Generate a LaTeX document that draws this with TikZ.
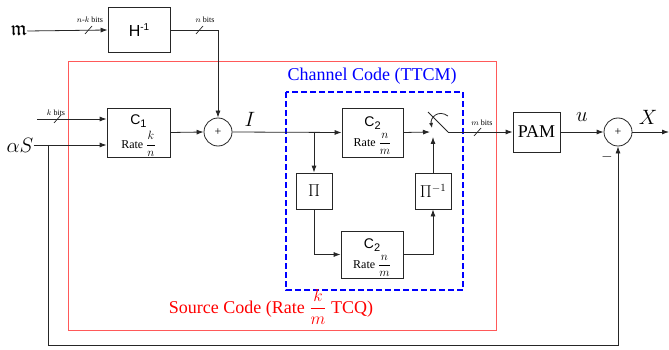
\documentclass[tikz,border=0pt]{standalone}
\usepackage{amssymb}
\usepackage{fontspec}
\setmainfont{Liberation Serif}
\setsansfont{Liberation Sans}
\usetikzlibrary{arrows.meta}
\DeclareMathSizes{12}{12}{9}{7}
\DeclareMathSizes{18}{18}{13}{10}
\DeclareMathSizes{16}{16}{11}{8}
\DeclareMathSizes{21}{21}{15}{11}
\newcommand{\ratefrac}[2]{\fontsize{12}{12}\selectfont Rate $\displaystyle\frac{#1}{#2}$}
\newcommand{\sfsub}[2]{{\sffamily\fontsize{14}{14}\selectfont\rule{0pt}{16pt}#1\raisebox{-3pt}{\fontsize{11}{11}\selectfont #2}}}
\begin{document}
\begin{tikzpicture}[x=1pt,y=-1pt,
  wire/.style={draw=black!85,line width=0.8pt},
  arr/.style={wire,-{Latex[length=7pt,width=5pt]}},
  blk/.style={draw=black!85,line width=0.8pt,rectangle,inner sep=0pt,align=center},
  sumnode/.style={draw=black!85,line width=0.8pt,circle,minimum size=28pt,inner sep=0pt,font=\fontsize{12}{12}\selectfont},
  tinylab/.style={font=\fontsize{8}{8}\selectfont,inner sep=0pt},
  biglab/.style={font=\fontsize{21}{21}\selectfont,inner sep=0pt},
  slashmark/.style={draw=black!85,line width=0.7pt}
]
\useasboundingbox (0,0) rectangle (669,350);

% frames
\draw[red!65,line width=1pt] (68,62) rectangle (496,330);
\draw[blue,line width=1.5pt,dash pattern=on 6pt off 3pt] (286,92) rectangle (463,290);
\node[text=blue,font=\fontsize{18}{18}\selectfont,inner sep=0pt] (cclab) at (372,76) {Channel Code (TTCM)};
\node[text=red,font=\fontsize{18}{18}\selectfont,inner sep=0pt,anchor=base] (sclab) at (271,313)
  {Source Code (Rate $\displaystyle\frac{k}{m}$ TCQ)};

% sources
\node[biglab] (msrc) at (19,31) {$\mathfrak{m}$};
\node[biglab] (as) at (20,145) {$\alpha S$};

% blocks
\node[blk,minimum width=62pt,minimum height=45pt] (h) at (139,30)
  {\sffamily\fontsize{16}{16}\selectfont H\raisebox{6pt}{\fontsize{10}{10}\selectfont -1}};
\node[blk,minimum width=63pt,minimum height=49pt] (c1) at (138.5,132.5)
  {\sfsub{C}{1}\\[3pt]\ratefrac{k}{n}};
\node[sumnode] (add1) at (218,132) {+};
\node[blk,minimum width=61pt,minimum height=49pt] (c2t) at (372.5,132.5)
  {\sfsub{C}{2}\\[3pt]\ratefrac{n}{m}};
\node[blk,minimum width=36pt,minimum height=36pt,font=\fontsize{16}{16}\selectfont] (pi) at (314,191) {$\Pi$};
\node[blk,minimum width=36pt,minimum height=36pt,font=\fontsize{16}{16}\selectfont] (pii) at (433,191) {$\Pi^{-1}$};
\node[blk,minimum width=62pt,minimum height=47pt] (c2b) at (372,254.5)
  {\sfsub{C}{2}\\[3pt]\ratefrac{n}{m}};
\node[blk,minimum width=47pt,minimum height=40pt,font=\fontsize{18}{18}\selectfont] (pam) at (536.5,132) {PAM};
\node[sumnode] (add2) at (618,132) {+};

% switch
\coordinate (swin) at (430,132);
\coordinate (swctl) at (433,137);
\coordinate (swa) at (428,112);
\coordinate (swb) at (448,132);
\draw[wire] (swa) -- (swb);
\draw[wire,-{Latex[length=5pt,width=4pt]}] (448,116) .. controls (438,109) and (430,118) .. (432,128);

% coordinates
\coordinate (kin) at (37,119);
\coordinate (j1) at (48,145);
\coordinate (fbc) at (618,345);
\coordinate (xout) at (669,132);
\coordinate (br1) at (pi.north |- add1.east);

% connectors
\draw[arr] (msrc.east) -- (h.west);
\draw[arr] (h.east) -| (add1.north);
\draw[arr] (kin) -- (kin -| c1.west);
\draw[arr] (as.east) -- (as.east -| c1.west);
\draw[arr] (c1.east) -- (add1.west);
\draw[arr] (add1.east) -- (c2t.west);
\draw[arr] (br1) -- (pi.north);
\draw[arr] (pi.south) |- (c2b.west);
\draw[arr] (c2b.east) -| (pii.south);
\draw[arr] (pii.north) -- (swctl);
\draw[arr] (c2t.east) -- (swin);
\draw[arr] (swb) -- (pam.west);
\draw[arr] (pam.east) -- (add2.west);
\draw[arr] (add2.east) -- (xout);
\draw[arr] (j1) -- (j1 |- fbc) -- (fbc) -- (add2.south);

% bit-width marks
\draw[slashmark] (85,34) -- (92,26);
\node[tinylab] (lnk) at (90,20) {$n$-$k$ bits};
\draw[slashmark] (196,34) -- (203,26);
\node[tinylab] (ln) at (205,20) {$n$ bits};
\draw[slashmark] (54,123) -- (61,115);
\node[tinylab] (lk) at (56,113) {$k$ bits};
\draw[slashmark] (474,136) -- (481,128);
\node[tinylab] (lm) at (482,123) {$m$ bits};

% signal labels
\node[biglab] (li) at (250,119) {$I$};
\node[biglab] (lu) at (582,117) {$u$};
\node[biglab] (lx) at (648,117) {$X$};
\node[font=\fontsize{14}{14}\selectfont,inner sep=0pt] (lminus) at (607,157) {$-$};
\end{tikzpicture}
\end{document}
